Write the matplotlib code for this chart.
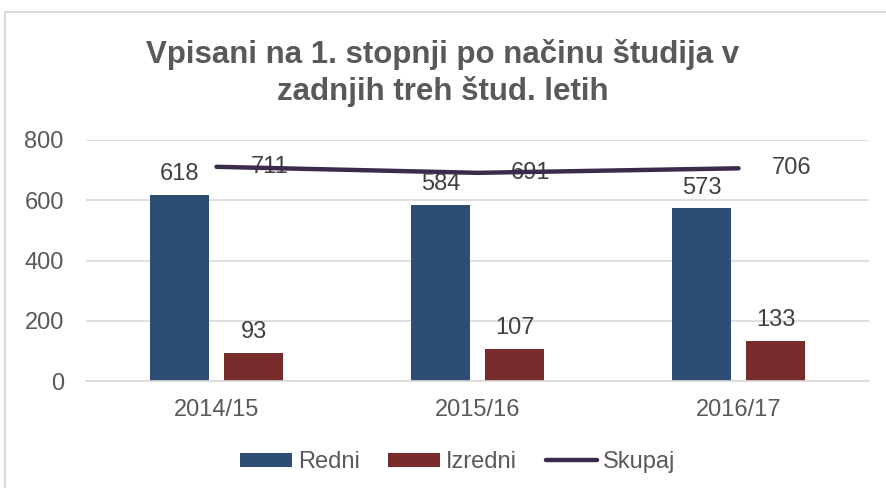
import matplotlib
matplotlib.use("Agg")
import matplotlib.pyplot as plt
import numpy as np
from matplotlib.patches import Rectangle, Patch
from matplotlib.lines import Line2D

categories = ["2014/15", "2015/16", "2016/17"]
redni = [618, 584, 573]
izredni = [93, 107, 133]
skupaj = [711, 691, 706]
yticks = [0, 200, 400, 600, 800]

c_blue = "#2D4D74"
c_red = "#772B2B"
c_line = "#3A2A4C"
c_text = "#595959"
c_grid = "#D9D9D9"

plt.rcParams['font.family'] = ['Liberation Sans', 'DejaVu Sans']
fs = 17

fig = plt.figure(figsize=(8.86, 4.88), dpi=100)
fig.patches.append(Rectangle((5/886, -0.1), 1.2, 1.1 - 12/488 + 0.0, transform=fig.transFigure,
                             fill=False, edgecolor=c_grid, linewidth=1.5))
ax = fig.add_axes([86/886, 1-381/488, 783/886, 241/488])

x = np.arange(len(categories))
w = 0.226
off = 0.1418
b1 = ax.bar(x - off, redni, w, color=c_blue, zorder=2)
b2 = ax.bar(x + off, izredni, w, color=c_red, zorder=2)
ln, = ax.plot(x, skupaj, color=c_line, linewidth=3.2, solid_capstyle='round', zorder=3)

for xi, v in zip(x - off, redni):
    ax.annotate(str(v), (xi, v), xytext=(0, 7), textcoords='offset points',
                ha='center', va='bottom', fontsize=fs, color='#404040', zorder=4)
for xi, v in zip(x + off, izredni):
    ax.annotate(str(v), (xi, v), xytext=(0, 7), textcoords='offset points',
                ha='center', va='bottom', fontsize=fs, color='#404040', zorder=4)
for xi, v in zip(x, skupaj):
    ax.annotate(str(v), (xi, v), xytext=(38, 0), textcoords='offset points',
                ha='center', va='center', fontsize=fs, color='#404040', zorder=2.5)

ax.set_xlim(-0.5, 2.5)
ax.set_ylim(0, 800)
ax.set_yticks(yticks)
ax.set_xticks(x)
ax.set_xticklabels(categories)
ax.grid(axis='y', color=c_grid, linewidth=1.2, zorder=0)
ax.set_axisbelow(True)
for s in ax.spines.values():
    s.set_visible(False)
ax.spines['bottom'].set_visible(True)
ax.spines['bottom'].set_color(c_grid)
ax.spines['bottom'].set_linewidth(1.2)
ax.tick_params(axis='both', length=0, labelsize=fs, labelcolor=c_text)
ax.tick_params(axis='y', pad=16)
ax.tick_params(axis='x', pad=13)

fig.text(0.5, 1-73/488, "Vpisani na 1. stopnji po načinu študija v\nzadnjih treh štud. letih",
         ha='center', va='center', fontsize=22.5, fontweight='bold', color=c_text,
         linespacing=1.25)

handles = [Patch(facecolor=c_blue, label='Redni'), Patch(facecolor=c_red, label='Izredni'),
           Line2D([0], [0], color=c_line, linewidth=3.2, solid_capstyle='round', label='Skupaj')]
leg = fig.legend(handles=handles, loc='center', bbox_to_anchor=(458/886, 1-462/488), ncol=3,
                 frameon=False, fontsize=fs, handlelength=2.2, handleheight=0.55,
                 columnspacing=1.2, handletextpad=0.25, labelcolor=c_text)

fig.savefig("out.png", dpi=100)
